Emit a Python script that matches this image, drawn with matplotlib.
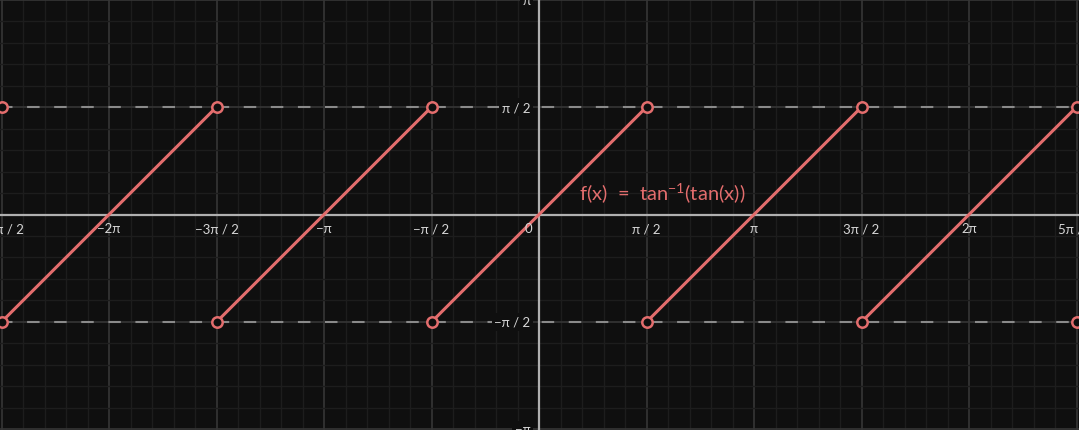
import numpy as np
import matplotlib.pyplot as plt

# f(x) = arctan(tan(x)) -- branch breaks at odd multiples of pi/2
breaks = [-7, -5, -3, -1, 1, 3, 5, 7]          # in units of pi/2
branch_centers = [-3, -2, -1, 0, 1, 2, 3]      # in units of pi
xtick_pos = [-5, -4, -3, -2, -1, 0, 1, 2, 3, 4, 5]   # in units of pi/2
xtick_labels = ["\u22125\u03c0 / 2", "\u22122\u03c0", "\u22123\u03c0 / 2", "\u2212\u03c0",
                "\u2212\u03c0 / 2", "0", "\u03c0 / 2", "\u03c0", "3\u03c0 / 2", "2\u03c0", "5\u03c0 / 2"]
ytick_pos = [2, 1, -1, -2]
ytick_labels = ["\u03c0", "\u03c0 / 2", "\u2212\u03c0 / 2", "\u2212\u03c0"]

bg = "#0f0f0f"
red = "#e36d6d"
txt = "#d6d6d6"
h = np.pi / 2

plt.rcParams["font.family"] = ["Lato", "DejaVu Sans"]
plt.rcParams["mathtext.fontset"] = "custom"
plt.rcParams["mathtext.rm"] = "Lato"
plt.rcParams["mathtext.default"] = "rm"
fig = plt.figure(figsize=(10.79, 4.31), dpi=100, facecolor=bg)
ax = fig.add_axes([0, 0, 1, 1], facecolor=bg)
for s in ax.spines.values():
    s.set_visible(False)

# grid
ax.set_xticks([k * h for k in range(-6, 7)])
ax.set_yticks([k * h for k in range(-3, 4)])
ax.set_xticks([k * h / 5 for k in range(-30, 31)], minor=True)
ax.set_yticks([k * h / 5 for k in range(-15, 16)], minor=True)
ax.grid(which="major", color="#363636", lw=1.2)
ax.grid(which="minor", color="#1d1d1d", lw=1.0)
ax.tick_params(which="both", length=0, labelbottom=False, labelleft=False)
ax.set_axisbelow(True)

# dashed levels at +-pi/2
for yv in (h, -h):
    ax.axhline(yv, color="#8a8a8a", lw=1.5, dashes=(6, 7), zorder=2)

# axes
ax.axhline(0, color="#b0b0b0", lw=1.6, zorder=3)
ax.axvline(0, color="#b0b0b0", lw=1.6, zorder=3)

# branches
for c in branch_centers:
    xs = np.array([c * np.pi - h, c * np.pi + h])
    ax.plot(xs, xs - c * np.pi, color=red, lw=2.2, zorder=5, solid_capstyle="butt")

# open endpoints
bx = [b * h for b in breaks]
for yv in (h, -h):
    ax.plot(bx, [yv] * len(bx), "o", ms=7.5, mfc=bg, mec=red, mew=1.8, zorder=6,
            linestyle="none")

# tick labels
for p, lab in zip(xtick_pos, xtick_labels):
    xv = p * h
    if p == 0:
        ax.text(-0.06 * h, -0.13 * h, lab, color=txt, fontsize=9.5, ha="right", va="center", zorder=7)
    else:
        ax.text(xv, -0.13 * h, lab, color=txt, fontsize=9.5, ha="center", va="center", zorder=7)
for p, lab in zip(ytick_pos, ytick_labels):
    ax.text(-0.08 * h, p * h, lab, color=txt, fontsize=9.5, ha="right", va="center", zorder=7,
            bbox=dict(boxstyle="square,pad=0.2", fc=bg, ec="none"))

ax.text(0.37 * h, 0.21 * h, "f(x)  =  tan$^{\u2212 1}$(tan(x))", color=red, fontsize=14.5,
        ha="left", va="center", zorder=7)

ax.set_xlim(-5.014 * h, 5.023 * h)
ax.set_ylim(-2.005 * h, 2.005 * h)

fig.savefig("out.png", dpi=100, facecolor=bg)
